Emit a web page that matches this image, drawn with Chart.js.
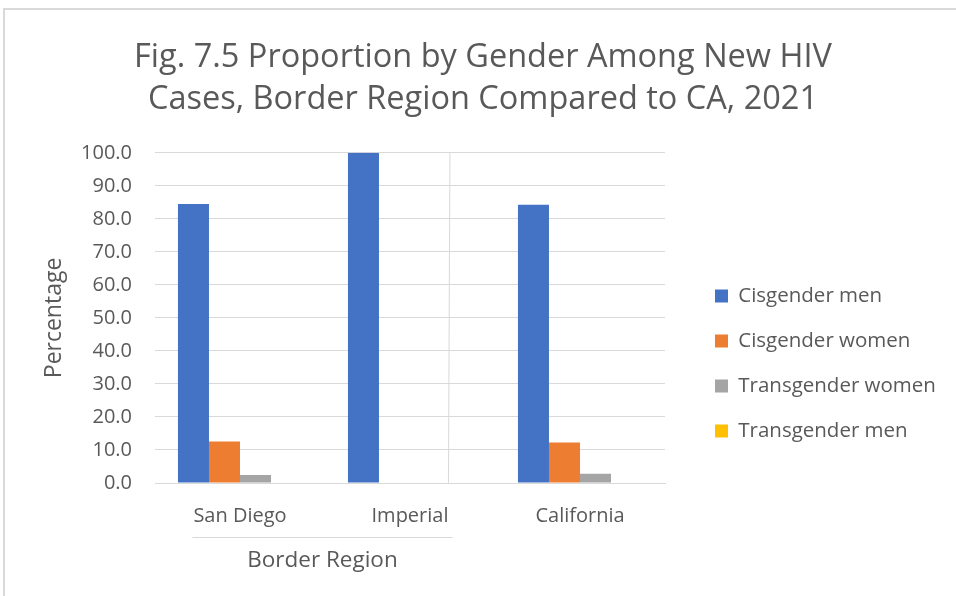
<!DOCTYPE html>
<html>
<head>
<meta charset="utf-8">
<script src="https://cdn.jsdelivr.net/npm/chart.js@4.4.1/dist/chart.umd.min.js"></script>
<style>
  html, body { margin: 0; padding: 0; background: #fff; }
  #box { width: 956px; height: 596px; }
</style>
</head>
<body>
<div id="box"><canvas id="chart"></canvas></div>
<script>
const categories = ['San Diego', 'Imperial', 'California'];
const cisgenderMen = [84.5, 100.0, 84.3];
const cisgenderWomen = [12.6, 0, 12.3];
const transgenderWomen = [2.4, 0, 2.8];
const transgenderMen = [0, 0, 0];
const groupLabel = 'Border Region';
const yTicks = { min: 0, max: 100, step: 10 };

const textColor = '#595959';
const gridColor = '#d9d9d9';
const font = 'Open Sans';
const legendWidth = 291;

// frame, multi-level axis group and the divider line
const decorations = {
    id: 'decorations',
    beforeDraw: chart => {
        const ctx = chart.ctx;
        ctx.save();
        ctx.fillStyle = '#fff';
        ctx.fillRect(0, 0, chart.width, chart.height);
        ctx.strokeStyle = gridColor;
        ctx.lineWidth = 2;
        ctx.beginPath();
        ctx.moveTo(4, chart.height);
        ctx.lineTo(4, 9);
        ctx.lineTo(chart.width, 9);
        ctx.stroke();
        ctx.restore();
    },
    afterDraw: chart => {
        const ctx = chart.ctx;
        const x = chart.scales.x;
        const area = chart.chartArea;
        const step = x.getPixelForValue(1) - x.getPixelForValue(0);
        const left = x.getPixelForValue(0) - 0.28 * step;
        const right = x.getPixelForValue(1) + 0.25 * step;
        ctx.save();
        ctx.strokeStyle = gridColor;
        ctx.lineWidth = 1;
        ctx.beginPath();
        ctx.moveTo(left, area.bottom + 54.5);
        ctx.lineTo(right, area.bottom + 54.5);
        ctx.stroke();
        const sep = x.getPixelForValue(1) + 0.235 * step;
        ctx.beginPath();
        ctx.moveTo(sep, area.top - 1);
        ctx.lineTo(sep - 1.5, area.bottom);
        ctx.stroke();
        ctx.fillStyle = textColor;
        ctx.font = `22.5px "${font}"`;
        ctx.textAlign = 'center';
        ctx.textBaseline = 'middle';
        ctx.fillText(groupLabel, (left + right) / 2, area.bottom + 78);
        ctx.restore();
    }
};

// fixed legend width, then move the legend items into place
const legendPlace = {
    id: 'legendPlace',
    afterInit: chart => {
        const lg = chart.legend;
        const fit = lg.fit;
        lg.fit = function () {
            fit.call(this);
            this.width = legendWidth;
        };
    },
    afterLayout: chart => {
        const lg = chart.legend;
        lg.left += 25.5;
        lg.right += 25.5;
        lg.top += 65.5;
        lg.bottom += 65.5;
    }
};

new Chart(document.getElementById('chart'), {
    type: 'bar',
    data: {
        labels: categories,
        datasets: [
            { label: 'Cisgender men', data: cisgenderMen, backgroundColor: '#4472c4' },
            { label: 'Cisgender women', data: cisgenderWomen, backgroundColor: '#ed7d31' },
            { label: 'Transgender women', data: transgenderWomen, backgroundColor: '#a5a5a5' },
            { label: 'Transgender men', data: transgenderMen, backgroundColor: '#ffc000' }
        ]
    },
    options: {
        responsive: true,
        maintainAspectRatio: false,
        animation: false,
        layout: { padding: { left: 10, right: 0, top: 0, bottom: 0 } },
        datasets: { bar: { categoryPercentage: 0.73, barPercentage: 1 } },
        plugins: {
            title: {
                display: true,
                text: ['Fig. 7.5 Proportion by Gender Among New HIV', 'Cases, Border Region Compared to CA, 2021'],
                color: textColor,
                font: { family: font, size: 32.5, weight: 'normal', lineHeight: 1.29 },
                padding: { top: 37, bottom: 32 }
            },
            legend: {
                position: 'right',
                labels: {
                    color: textColor,
                    font: { family: font, size: 20.5 },
                    boxWidth: 13,
                    boxHeight: 13,
                    padding: 24.5
                }
            },
            tooltip: { enabled: false }
        },
        scales: {
            x: {
                grid: { display: false },
                border: { display: true, color: gridColor },
                ticks: { color: textColor, font: { family: font, size: 20 }, padding: 13 },
                afterFit: scale => { scale.height = 113; }
            },
            y: {
                min: yTicks.min,
                max: yTicks.max,
                grid: { color: gridColor, drawTicks: false },
                border: { display: false },
                ticks: {
                    stepSize: yTicks.step,
                    color: textColor,
                    font: { family: font, size: 20 },
                    padding: 23,
                    callback: v => v.toFixed(1)
                },
                title: {
                    display: true,
                    text: 'Percentage',
                    color: textColor,
                    font: { family: font, size: 23 },
                    padding: { top: 31, bottom: 0 }
                },
                afterFit: scale => { scale.width = 145; }
            }
        }
    },
    plugins: [decorations, legendPlace]
});
</script>
</body>
</html>
